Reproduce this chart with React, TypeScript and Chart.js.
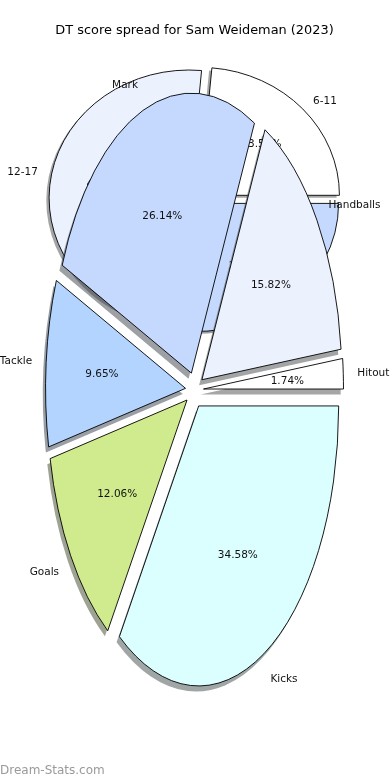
import React, { useEffect, useRef } from 'react';
import { Chart, registerables } from 'chart.js';

Chart.register(...registerables);

// ---- data ----
const TITLE = 'DT score spread for Sam Weideman (2023)';
const WATERMARK = 'Dream-Stats.com';

// main pie (matplotlib order: counter-clockwise from 3 o'clock)
const statLabels = ['Hitout', 'Handballs', 'Mark', 'Tackle', 'Goals', 'Kicks'];
const statValues = [1.74, 15.82, 26.14, 9.65, 12.06, 34.58];
const statColors = ['#ffffff', '#ebf2fe', '#c5d9fe', '#b3d4ff', '#d0eb8d', '#dbffff'];

// background pie (DT score ranges)
const rangeLabels = ['6-11', '12-17', '18+'];
const rangeValues = [23.58, 46.83, 29.59];
const rangeColors = ['#ffffff', '#ebf2fe', '#c5d9fe'];

// ---- geometry / style ----
const RADIUS = 140;
const SHADOW_FRAC = 0.02;
const FRONT = { sy: 2.0, explode: 9 };
const BACK = { sy: 0.914, explode: 6 };
const FONT = '"DejaVu Sans", sans-serif';

function hexToRgb(h: string): number[] {
  const s = h.replace('#', '');
  return [0, 2, 4].map((i) => parseInt(s.substr(i, 2), 16));
}

function stretchedPiePlugin(cfg: { sy: number; explode: number }, withWatermark: boolean) {
  return {
    id: 'stretchedPie',
    beforeDatasetDraw(chart: any, args: any) {
      const ctx: CanvasRenderingContext2D = chart.ctx;
      const arcs = args.meta.data;
      if (!arcs.length) return false;
      const cx = arcs[0].x;
      const cy = arcs[0].y;
      const sh = SHADOW_FRAC * RADIUS;
      const applyT = () => {
        ctx.translate(cx, cy);
        ctx.scale(1, cfg.sy);
        ctx.translate(-cx, -cy);
      };
      // shadow pass (all shadows under all wedges)
      ctx.save();
      applyT();
      arcs.forEach((arc: any) => {
        const mid = (arc.startAngle + arc.endAngle) / 2;
        const o = arc.options;
        const [r, g, b] = hexToRgb(o.backgroundColor);
        ctx.save();
        ctx.translate(cfg.explode * Math.cos(mid) - sh, cfg.explode * Math.sin(mid) + sh);
        arc.options = {
          ...o,
          backgroundColor: `rgba(${0.3 * r},${0.3 * g},${0.3 * b},0.5)`,
          borderWidth: 0,
        };
        arc.draw(ctx);
        arc.options = o;
        ctx.restore();
      });
      ctx.restore();
      // wedges
      ctx.save();
      applyT();
      const origStroke = ctx.stroke;
      (ctx as any).stroke = function (...a: any[]) {
        this.save();
        this.setTransform(1, 0, 0, 1, 0, 0);
        origStroke.apply(this, a);
        this.restore();
      };
      arcs.forEach((arc: any) => {
        const mid = (arc.startAngle + arc.endAngle) / 2;
        ctx.save();
        ctx.translate(cfg.explode * Math.cos(mid), cfg.explode * Math.sin(mid));
        arc.draw(ctx);
        ctx.restore();
      });
      delete (ctx as any).stroke;
      ctx.restore();
      return false;
    },
    afterDraw(chart: any) {
      const ctx: CanvasRenderingContext2D = chart.ctx;
      const arcs = chart.getDatasetMeta(0).data;
      const labels = chart.data.labels;
      const vals: number[] = chart.data.datasets[0].data;
      const total = vals.reduce((a, b) => a + b, 0);
      ctx.save();
      ctx.font = `10.5px ${FONT}`;
      ctx.fillStyle = '#111';
      ctx.textBaseline = 'middle';
      arcs.forEach((arc: any, i: number) => {
        const cx = arc.x;
        const cy = arc.y;
        const mid = (arc.startAngle + arc.endAngle) / 2;
        const c = Math.cos(mid);
        const s = Math.sin(mid);
        const lr = 1.1 * arc.outerRadius + cfg.explode;
        ctx.textAlign = c > 0 ? 'left' : 'right';
        ctx.fillText(String(labels[i]), cx + lr * c, cy + cfg.sy * lr * s + 1);
        const pr = 0.6 * arc.outerRadius + cfg.explode;
        ctx.textAlign = 'center';
        ctx.fillText(((vals[i] / total) * 100).toFixed(2) + '%', cx + pr * c, cy + cfg.sy * pr * s + 1);
      });
      if (withWatermark) {
        ctx.font = `12px ${FONT}`;
        ctx.fillStyle = '#9a9a9a';
        ctx.textAlign = 'left';
        ctx.fillText(WATERMARK, 0, 771);
      }
      ctx.restore();
    },
  };
}

function pieConfig(
  labels: string[],
  values: number[],
  colors: string[],
  padding: any,
  title: boolean,
  plugin: any
): any {
  return {
    type: 'pie',
    data: {
      labels: labels.slice().reverse(),
      datasets: [
        {
          data: values.slice().reverse(),
          backgroundColor: colors.slice().reverse(),
          borderColor: '#000',
          borderWidth: 0.9,
          borderJoinStyle: 'miter',
        },
      ],
    },
    options: {
      responsive: false,
      animation: false,
      devicePixelRatio: 1,
      rotation: 90,
      radius: RADIUS,
      layout: { padding },
      events: [],
      plugins: {
        legend: { display: false },
        tooltip: { enabled: false },
        title: {
          display: title,
          text: TITLE,
          color: '#000',
          font: { family: FONT, size: 12.9, weight: 'normal' },
          padding: { top: 23, bottom: 0 },
        },
      },
    },
    plugins: [plugin],
  };
}

export default function App() {
  const backRef = useRef<HTMLCanvasElement>(null);
  const frontRef = useRef<HTMLCanvasElement>(null);

  useEffect(() => {
    const back = new Chart(
      backRef.current as HTMLCanvasElement,
      pieConfig(
        rangeLabels,
        rangeValues,
        rangeColors,
        { top: 0, left: 0, right: 0, bottom: 780 - 2 * 199 },
        false,
        stretchedPiePlugin(BACK, false)
      )
    );
    const front = new Chart(
      frontRef.current as HTMLCanvasElement,
      pieConfig(
        statLabels,
        statValues,
        statColors,
        { top: 0, left: 0, right: 1, bottom: 38.48 },
        true,
        stretchedPiePlugin(FRONT, true)
      )
    );
    return () => {
      back.destroy();
      front.destroy();
    };
  }, []);

  return (
    <div style={{ position: 'fixed', left: 0, top: 0, width: 390, height: 780, background: '#fff' }}>
      <canvas ref={backRef} width={390} height={780} style={{ position: 'absolute', left: 0, top: 0 }} />
      <canvas ref={frontRef} width={390} height={780} style={{ position: 'absolute', left: 0, top: 0 }} />
    </div>
  );
}
